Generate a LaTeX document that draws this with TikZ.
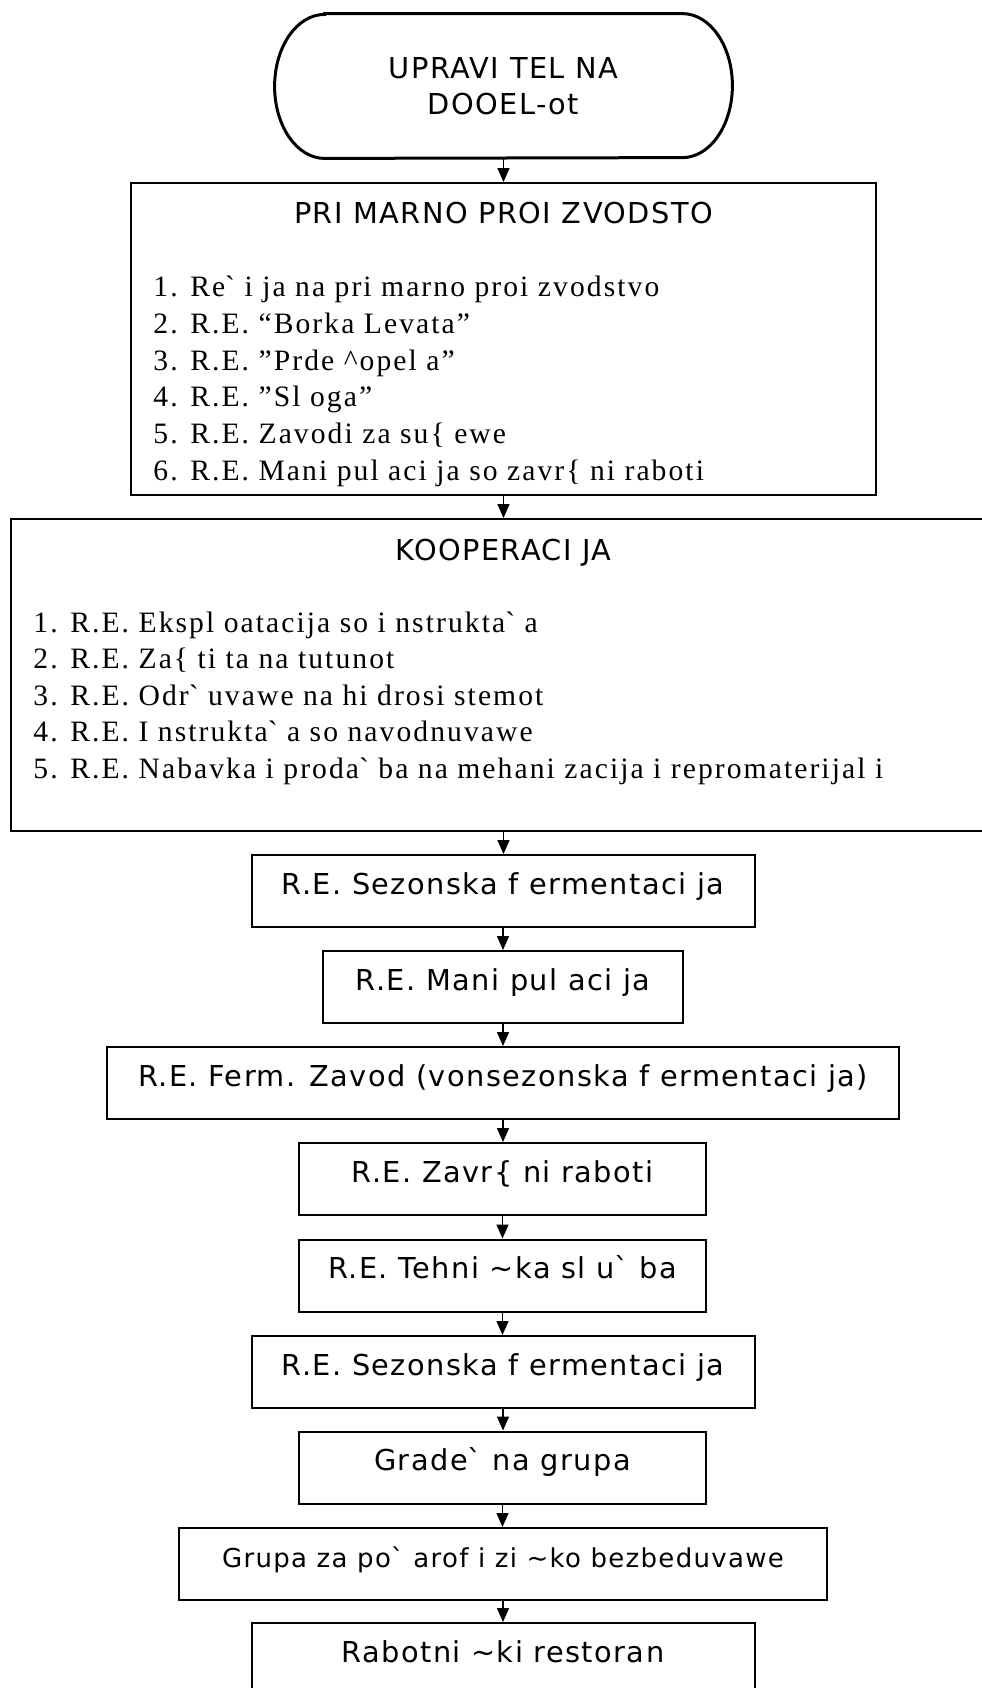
\documentclass[tikz,border=0pt]{standalone}
\usepackage{fontspec}
\setmainfont{Liberation Serif}[LetterSpace=7]
\setsansfont{DejaVu Sans}[LetterSpace=5]
\usetikzlibrary{arrows.meta}

\begin{document}
\begin{tikzpicture}[x=0.5pt,y=-0.5pt,
  box/.style={draw,line width=1pt,inner sep=0pt,minimum height=36pt,
    text height=10pt,text depth=7pt,font=\sffamily\fontsize{14.4}{18}\selectfont},
  bigbox/.style={draw,line width=1pt,inner sep=0pt,minimum height=156pt},
  title/.style={anchor=base,inner sep=0pt,font=\sffamily\fontsize{14.4}{18}\selectfont},
  item/.style={anchor=base west,inner sep=0pt,font=\rmfamily\fontsize{14.8}{18}\selectfont},
  arr/.style={line width=0.75pt,-{Triangle[length=7pt,width=6pt]}}]
\useasboundingbox (0,0) rectangle (981,1688);
% head of the company
\node[inner sep=0pt,minimum width=228.5pt,minimum height=72pt,align=center,
  font=\sffamily\fontsize{14.4}{18}\selectfont] (term) at (503.5,86) {UPRAVI TEL NA\\DOOEL-ot};
\draw[line width=1.5pt] ([xshift=25pt]term.north west) -- ([xshift=-25pt]term.north east)
  arc[start angle=90,end angle=-90,x radius=25pt,y radius=36pt]
  -- ([xshift=25pt]term.south west)
  arc[start angle=270,end angle=90,x radius=25pt,y radius=36pt] -- cycle;
% primary production
\node[bigbox,minimum width=372.5pt] (prim) at (503.5,339) {};
\node[title] (primtit) at (503.5,223) {PRI MARNO PROI ZVODSTO};
\node[item] (p1) at (153,296) {1. Re\textasciigrave{} i ja na pri marno proi zvodstvo};
\node[item] (p2) at (153,333) {2. R.E. “Borka Levata”};
\node[item] (p3) at (153,370) {3. R.E. ”Prde \textasciicircum{}opel a”};
\node[item] (p4) at (153,406) {4. R.E. ”Sl oga”};
\node[item] (p5) at (153,443) {5. R.E. Zavodi za su\{ ewe};
\node[item] (p6) at (153,480) {6. R.E. Mani pul aci ja so zavr\{ ni raboti};
% cooperation
\node[bigbox,minimum width=492.5pt] (koop) at (503.5,675) {};
\node[title] (kooptit) at (503.5,560) {KOOPERACI JA};
\node[item] (k1) at (33,632) {1. R.E. Ekspl oatacija so i nstrukta\textasciigrave{} a};
\node[item] (k2) at (33,668) {2. R.E. Za\{ ti ta na tutunot};
\node[item] (k3) at (33,705) {3. R.E. Odr\textasciigrave{} uvawe na hi drosi stemot};
\node[item] (k4) at (33,741) {4. R.E. I nstrukta\textasciigrave{} a so navodnuvawe};
\node[item] (k5) at (33,778) {5. R.E. Nabavka i proda\textasciigrave{} ba na mehani zacija i repromaterijal i};
% working units
\node[box,minimum width=251.5pt] (sez) at (503,891) {R.E. Sezonska f ermentaci ja};
\node[box,minimum width=180pt] (manip) at (503,987) {R.E. Mani pul aci ja};
\node[box,minimum width=396pt] (ferm) at (503,1083) {R.E. Ferm. Zavod (vonsezonska f ermentaci ja)};
\node[box,minimum width=203.5pt] (zavr) at (502.5,1179) {R.E. Zavr\{ ni raboti};
\node[box,minimum width=203.5pt] (tehn) at (502.5,1275.5) {R.E. Tehni \textasciitilde{}ka sl u\textasciigrave{} ba};
\node[box,minimum width=251.5pt] (sez2) at (503,1372) {R.E. Sezonska f ermentaci ja};
\node[box,minimum width=203.5pt] (grade) at (502.5,1467.5) {Grade\textasciigrave{} na grupa};
\node[box,minimum width=324pt,font=\sffamily\fontsize{13}{18}\selectfont] (pozar) at (503,1564) {Grupa za po\textasciigrave{} arof i zi \textasciitilde{}ko bezbeduvawe};
\node[box,minimum width=251.5pt] (restor) at (503,1659) {Rabotni \textasciitilde{}ki restoran};
% arrows
\draw[arr] (term.south) -- (term.south |- prim.north);
\draw[arr] (prim.south) -- (prim.south |- koop.north);
\draw[arr] (koop.south) -- (koop.south |- sez.north);
\draw[arr] (sez.south) -- (sez.south |- manip.north);
\draw[arr] (manip.south) -- (manip.south |- ferm.north);
\draw[arr] (ferm.south) -- (ferm.south |- zavr.north);
\draw[arr] (zavr.south) -- (zavr.south |- tehn.north);
\draw[arr] (tehn.south) -- (tehn.south |- sez2.north);
\draw[arr] (sez2.south) -- (sez2.south |- grade.north);
\draw[arr] (grade.south) -- (grade.south |- pozar.north);
\draw[arr] (pozar.south) -- (pozar.south |- restor.north);
\end{tikzpicture}
\end{document}
